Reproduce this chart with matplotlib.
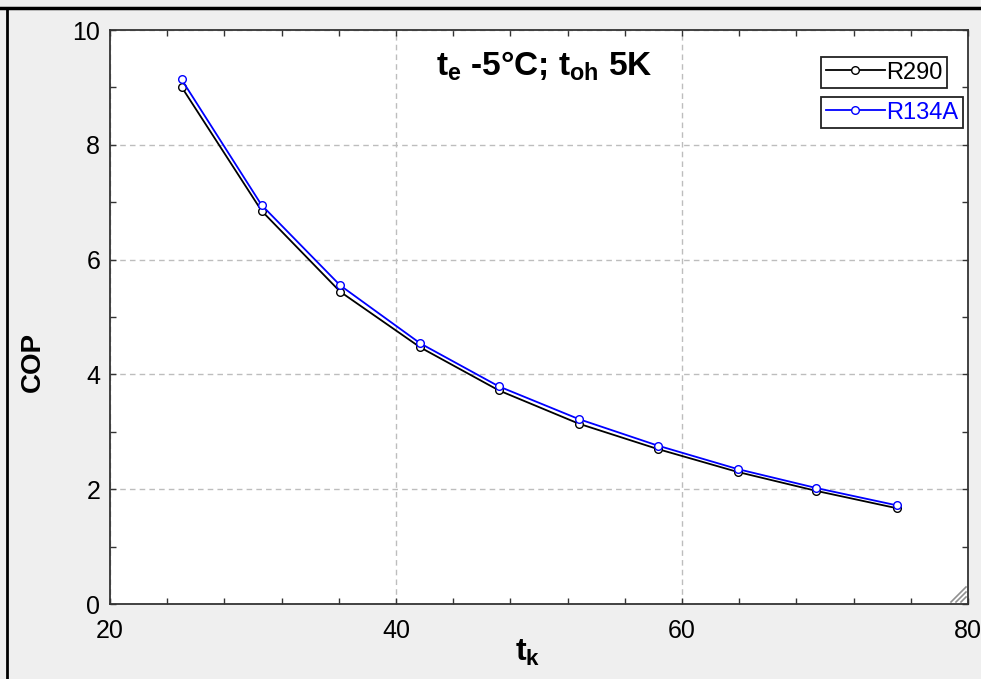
import matplotlib
matplotlib.use("Agg")
import matplotlib.pyplot as plt
from matplotlib.lines import Line2D
from matplotlib.ticker import MultipleLocator

plt.rcParams['font.family'] = ['Liberation Sans', 'DejaVu Sans']
plt.rcParams['mathtext.fontset'] = 'custom'
plt.rcParams['mathtext.rm'] = 'Liberation Sans'
plt.rcParams['mathtext.bf'] = 'Liberation Sans:bold'
plt.rcParams['mathtext.default'] = 'bf'

# condensing temperature, degC
t_k = [25.0, 30.6, 36.1, 41.7, 47.2, 52.8, 58.3, 63.9, 69.4, 75.0]
cop_r290 = [9.01, 6.85, 5.44, 4.47, 3.72, 3.14, 2.70, 2.30, 1.97, 1.67]
cop_r134a = [9.14, 6.95, 5.55, 4.54, 3.79, 3.22, 2.76, 2.35, 2.02, 1.72]

W, H = 981, 679
bg = '#efefef'

fig = plt.figure(figsize=(W / 100, H / 100), dpi=100, facecolor=bg)
ax = fig.add_axes([110 / W, 1 - 604 / H, (968 - 110) / W, (604 - 30) / H])
ax.set_facecolor('white')

l1, = ax.plot(t_k, cop_r290, color='black', lw=1.3, marker='o', ms=5.5,
              mfc='white', mec='black', mew=1.0)
l2, = ax.plot(t_k, cop_r134a, color='#0000ff', lw=1.3, marker='o', ms=5.5,
              mfc='white', mec='#0000ff', mew=1.0)

ax.set_xlim(20, 80)
ax.set_ylim(0, 10)
ax.xaxis.set_major_locator(MultipleLocator(20))
ax.xaxis.set_minor_locator(MultipleLocator(4))
ax.yaxis.set_major_locator(MultipleLocator(2))
ax.yaxis.set_minor_locator(MultipleLocator(1))
ax.tick_params(which='both', direction='in', top=True, right=True,
               length=4, width=1, color='#333333')
ax.tick_params(axis='x', labelsize=18, pad=11)
ax.tick_params(axis='y', labelsize=18, pad=7)
ax.grid(True, which='major', ls=(0, (4, 3)), color='#bdbdbd', lw=1)
for s in ax.spines.values():
    s.set_color('#333333')
    s.set_linewidth(1.3)

ax.set_ylabel('COP', fontsize=20, fontweight='bold')
ax.yaxis.set_label_coords((46 - 110) / (968 - 110), (604 - 362) / (604 - 30))
ax.set_xlabel('t$_k$', fontsize=23, fontweight='bold')
ax.xaxis.set_label_coords((528 - 110) / (968 - 110), -(638 - 604) / (604 - 30))

ax.text((544 - 110) / 858, (604 - 66) / 574, 't$_e$ -5°C; t$_{oh}$ 5K',
        transform=ax.transAxes, ha='center', va='center',
        fontsize=24, fontweight='bold')

# two separate boxed legends
leg_kw = dict(fontsize=17, handlelength=2.5, handletextpad=0.05, borderpad=0.2,
              borderaxespad=0, numpoints=1, fancybox=False, framealpha=1,
              edgecolor='#222222', bbox_transform=fig.transFigure,
              loc='upper left')
leg1 = ax.legend([l1], ['R290'], bbox_to_anchor=(821 / W, 1 - 57 / H), **leg_kw)
leg1.get_frame().set_linewidth(1.3)
ax.add_artist(leg1)
leg2 = ax.legend([l2], ['R134A'], bbox_to_anchor=(821 / W, 1 - 97 / H), **leg_kw)
leg2.get_frame().set_linewidth(1.3)
for t in leg2.get_texts():
    t.set_color('#0000ff')

# resize grip in the corner
gx, gy = 966, 602
for d in (5, 10, 15):
    fig.add_artist(Line2D([(gx - d) / W, gx / W], [1 - gy / H, 1 - (gy - d) / H],
                          color='#909090', lw=1.2))

# window frame, top and left
fig.add_artist(Line2D([0, 1], [1 - 8 / H, 1 - 8 / H], color='black', lw=2.5))
fig.add_artist(Line2D([7 / W, 7 / W], [0, 1 - 8 / H], color='black', lw=2.0))

fig.savefig('out.png', dpi=100, facecolor=bg)
